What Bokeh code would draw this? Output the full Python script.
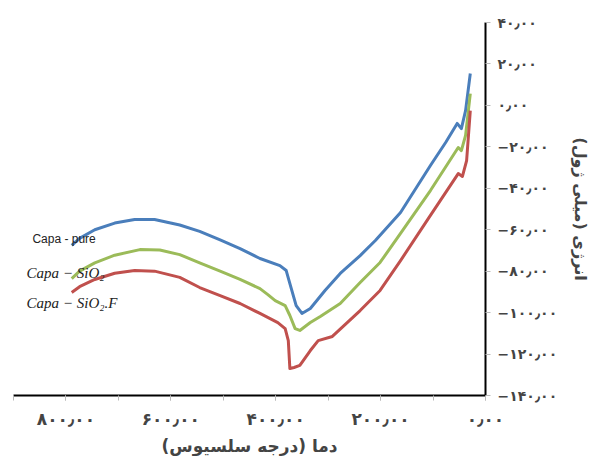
from bokeh.plotting import figure
from bokeh.models import Range1d, FixedTicker, Label
from bokeh.embed import file_html
from bokeh.resources import INLINE

# Data (temperature °C, energy mJ)
t_pure = [789, 774, 745, 707, 669, 631, 583, 545, 506, 468, 430, 392, 380, 373, 361, 350, 334, 306, 277, 239, 210, 162, 105, 76, 54, 46, 38, 29]
e_pure = [-67.6, -64.2, -60.0, -56.8, -55.1, -55.1, -57.7, -60.8, -64.9, -69.1, -73.9, -77.3, -79.7, -86.0, -96.6, -100.4, -98.0, -89.3, -81.1, -72.5, -65.2, -51.7, -29.0, -17.9, -8.7, -11.2, -2.5, 15.4]

t_sio2 = [789, 774, 745, 707, 659, 621, 583, 545, 506, 468, 430, 415, 401, 382, 373, 363, 354, 334, 315, 277, 239, 201, 162, 105, 52, 46, 38, 29]
e_sio2 = [-83.6, -80.0, -76.0, -72.3, -69.6, -69.8, -72.0, -76.0, -80.0, -84.0, -88.4, -91.3, -94.2, -96.6, -101.4, -107.7, -108.6, -104.8, -101.9, -95.6, -85.5, -75.8, -61.8, -41.1, -20.3, -21.8, -14.5, 5.7]

t_sio2f = [789, 774, 745, 707, 669, 631, 583, 545, 506, 468, 430, 396, 382, 376, 373, 365, 354, 334, 319, 292, 239, 201, 162, 105, 52, 44, 36, 29]
e_sio2f = [-90.3, -87.5, -84.0, -81.0, -79.7, -80.0, -83.0, -87.9, -91.8, -95.6, -100.4, -104.8, -107.7, -113.5, -127.0, -126.5, -125.5, -118.3, -113.5, -111.5, -99.0, -89.3, -74.9, -53.1, -32.9, -34.3, -26.6, -2.5]

x_ticks = [0, 200, 400, 600, 800]
x_tick_labels = ["۰٫۰۰", "۲۰۰٫۰۰", "۴۰۰٫۰۰", "۶۰۰٫۰۰", "۸۰۰٫۰۰"]
x_minor = [0, 100, 200, 300, 400, 500, 600, 700, 800, 900]
y_ticks = [-140, -120, -100, -80, -60, -40, -20, 0, 20, 40]
y_tick_labels = ["−۱۴۰٫۰۰", "−۱۲۰٫۰۰", "−۱۰۰٫۰۰", "−۸۰٫۰۰", "−۶۰٫۰۰", "−۴۰٫۰۰", "−۲۰٫۰۰", "۰٫۰۰", "۲۰٫۰۰", "۴۰٫۰۰"]

x_title = "دما (درجه سلسیوس)"
y_title = "انرژی (میلی ژول)"

series_names = ["Capa - pure", "Capa − SiO₂", "Capa − SiO₂.F"]
colors = ["#4A7EBB", "#9BBB59", "#C0504D"]

p = figure(width=600, height=461, output_backend="svg", toolbar_location=None,
           x_range=Range1d(900, 0), y_range=Range1d(-140, 40),
           y_axis_location="right",
           min_border_left=13, min_border_right=115, min_border_top=22, min_border_bottom=66)
p.outline_line_color = None
p.grid.visible = False
p.background_fill_color = "white"

for t, e, c in zip([t_pure, t_sio2, t_sio2f], [e_pure, e_sio2, e_sio2f], colors):
    p.line(t, e, line_color=c, line_width=3, line_join="round")

fa = "DejaVu Sans"
xa = p.xaxis[0]
xa.ticker = FixedTicker(ticks=x_ticks, minor_ticks=x_minor)
xa.major_label_overrides = {k: v for k, v in zip(x_ticks, x_tick_labels)}
xa.axis_line_color = "black"
xa.axis_line_width = 2
xa.major_tick_in = 0
xa.major_tick_out = 5
xa.minor_tick_in = 0
xa.minor_tick_out = 5
xa.major_tick_line_color = "#BBBBBB"
xa.minor_tick_line_color = "#BBBBBB"
xa.major_label_text_font = fa
xa.major_label_text_font_style = "bold"
xa.major_label_text_font_size = "17px"
xa.major_label_standoff = 8
xa.axis_label = x_title
xa.axis_label_text_font = fa
xa.axis_label_text_font_style = "bold"
xa.axis_label_text_font_size = "17px"
xa.axis_label_standoff = 4

ya = p.yaxis[0]
ya.ticker = FixedTicker(ticks=y_ticks)
ya.major_label_overrides = {k: v for k, v in zip(y_ticks, y_tick_labels)}
ya.axis_line_color = "black"
ya.axis_line_width = 2
ya.major_tick_in = 0
ya.major_tick_out = 5
ya.minor_tick_line_color = None
ya.major_tick_line_color = "#BBBBBB"
ya.major_label_text_font = fa
ya.major_label_text_font_style = "bold"
ya.major_label_text_font_size = "14px"
ya.major_label_standoff = 7
ya.axis_label = y_title
ya.axis_label_text_font = fa
ya.axis_label_text_font_style = "bold"
ya.axis_label_text_font_size = "16px"
ya.axis_label_standoff = 11

label_x = [864, 875, 875]
label_y = [-64.4, -81.1, -95.6]
styles = ["normal", "italic", "italic"]
fonts = ["Liberation Sans", "Liberation Serif", "Liberation Serif"]
sizes = ["12px", "15px", "15px"]
for name, lx, ly, st, f, s in zip(series_names, label_x, label_y, styles, fonts, sizes):
    p.add_layout(Label(x=lx, y=ly, text=name, text_font=f, text_font_style=st,
                       text_font_size=s, text_baseline="middle", text_align="left",
                       text_color="#222222"))

open("out.html", "w").write(file_html(p, INLINE))
